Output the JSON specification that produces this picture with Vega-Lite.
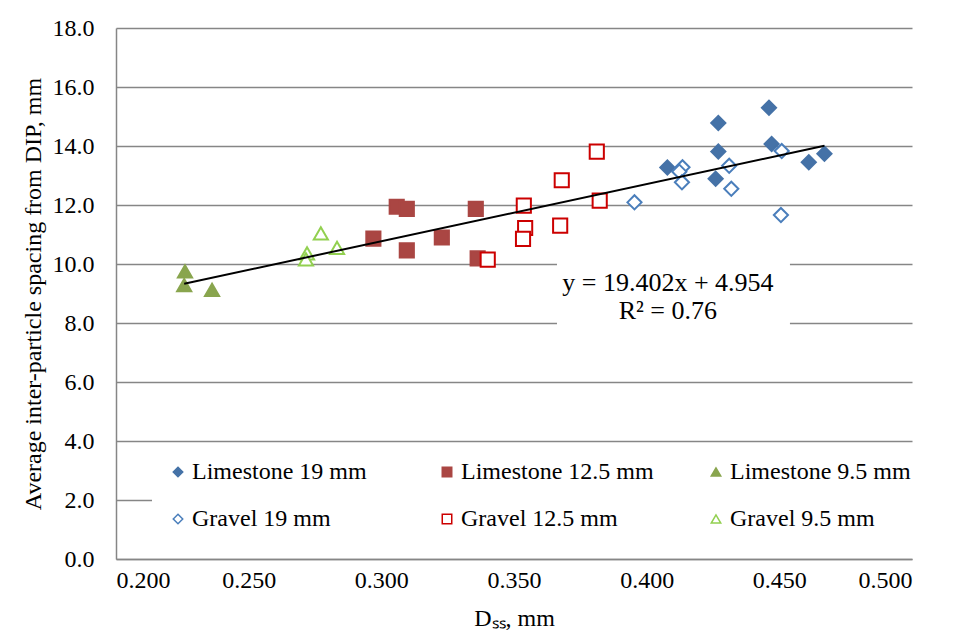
{
  "$schema": "https://vega.github.io/schema/vega-lite/v6.json",
  "width": 796,
  "height": 531,
  "autosize": {"type": "none"},
  "padding": {"left": 116, "top": 28, "right": 50, "bottom": 81},
  "background": "white",
  "config": {
    "view": {"stroke": null},
    "font": "Liberation Serif",
    "axis": {
      "labelFont": "Liberation Serif",
      "titleFont": "Liberation Serif",
      "labelColor": "black",
      "titleColor": "black",
      "labelFontSize": 24,
      "titleFontSize": 24,
      "titleFontWeight": "normal",
      "domainColor": "#868686",
      "domainWidth": 1.5,
      "gridColor": "#868686",
      "gridWidth": 1.5,
      "ticks": false
    },
    "legend": {
      "labelFont": "Liberation Serif",
      "labelFontSize": 24,
      "labelColor": "black",
      "labelLimit": 0
    }
  },
  "datasets": {
    "pts": [
      {"series": "Limestone 19 mm", "x": 0.4461, "y": 15.30},
      {"series": "Limestone 19 mm", "x": 0.4270, "y": 14.78},
      {"series": "Limestone 19 mm", "x": 0.4471, "y": 14.07},
      {"series": "Limestone 19 mm", "x": 0.4270, "y": 13.81},
      {"series": "Limestone 19 mm", "x": 0.4670, "y": 13.74},
      {"series": "Limestone 19 mm", "x": 0.4611, "y": 13.45},
      {"series": "Limestone 19 mm", "x": 0.4078, "y": 13.27},
      {"series": "Limestone 19 mm", "x": 0.4260, "y": 12.89},
      {"series": "Limestone 12.5 mm", "x": 0.3058, "y": 11.94},
      {"series": "Limestone 12.5 mm", "x": 0.3096, "y": 11.87},
      {"series": "Limestone 12.5 mm", "x": 0.3356, "y": 11.87},
      {"series": "Limestone 12.5 mm", "x": 0.2970, "y": 10.86},
      {"series": "Limestone 12.5 mm", "x": 0.3228, "y": 10.90},
      {"series": "Limestone 12.5 mm", "x": 0.3096, "y": 10.46},
      {"series": "Limestone 12.5 mm", "x": 0.3363, "y": 10.19},
      {"series": "Limestone 9.5 mm", "x": 0.2260, "y": 9.75},
      {"series": "Limestone 9.5 mm", "x": 0.2257, "y": 9.28},
      {"series": "Limestone 9.5 mm", "x": 0.2362, "y": 9.12},
      {"series": "Gravel 19 mm", "x": 0.4509, "y": 13.83},
      {"series": "Gravel 19 mm", "x": 0.4311, "y": 13.33},
      {"series": "Gravel 19 mm", "x": 0.4135, "y": 13.28},
      {"series": "Gravel 19 mm", "x": 0.4123, "y": 13.13},
      {"series": "Gravel 19 mm", "x": 0.4133, "y": 12.77},
      {"series": "Gravel 19 mm", "x": 0.4319, "y": 12.55},
      {"series": "Gravel 19 mm", "x": 0.3954, "y": 12.09},
      {"series": "Gravel 19 mm", "x": 0.4506, "y": 11.66},
      {"series": "Gravel 12.5 mm", "x": 0.3812, "y": 13.81},
      {"series": "Gravel 12.5 mm", "x": 0.3680, "y": 12.84},
      {"series": "Gravel 12.5 mm", "x": 0.3823, "y": 12.15},
      {"series": "Gravel 12.5 mm", "x": 0.3537, "y": 11.98},
      {"series": "Gravel 12.5 mm", "x": 0.3542, "y": 11.22},
      {"series": "Gravel 12.5 mm", "x": 0.3674, "y": 11.30},
      {"series": "Gravel 12.5 mm", "x": 0.3534, "y": 10.85},
      {"series": "Gravel 12.5 mm", "x": 0.3401, "y": 10.15},
      {"series": "Gravel 9.5 mm", "x": 0.2772, "y": 11.04},
      {"series": "Gravel 9.5 mm", "x": 0.2720, "y": 10.36},
      {"series": "Gravel 9.5 mm", "x": 0.2716, "y": 10.16},
      {"series": "Gravel 9.5 mm", "x": 0.2833, "y": 10.55}
    ],
    "trend": [
      {"x": 0.2257, "y": 9.33},
      {"x": 0.4670, "y": 14.01}
    ],
    "eqbox": [
      {"x1": 0.3662, "x2": 0.4540, "y1": 7.9, "y2": 10.07, "xm": 0.408, "ym": 9.36, "label": ["y = 19.402x + 4.954", "R² = 0.76"]}
    ]
  },
  "layer": [
    {
      "data": {"name": "pts"},
      "mark": {"type": "point", "filled": false, "strokeWidth": 2, "size": 200, "opacity": 1},
      "encoding": {
        "x": {
          "field": "x", "type": "quantitative",
          "scale": {"domain": [0.2, 0.5], "nice": false, "zero": false},
          "axis": {"values": [0.2, 0.25, 0.3, 0.35, 0.4, 0.45, 0.5], "format": ".3f", "grid": false, "labelPadding": 9, "title": "Dₛₛ, mm", "titlePadding": 14}
        },
        "y": {
          "field": "y", "type": "quantitative",
          "scale": {"domain": [0, 18], "nice": false},
          "axis": {"values": [0, 2, 4, 6, 8, 10, 12, 14, 16, 18], "format": ".1f", "grid": true, "labelPadding": 22, "title": "Average inter-particle spacing from DIP, mm", "titlePadding": 7}
        },
        "shape": {
          "field": "series", "type": "nominal",
          "scale": {
            "domain": ["Limestone 19 mm", "Limestone 12.5 mm", "Limestone 9.5 mm", "Gravel 19 mm", "Gravel 12.5 mm", "Gravel 9.5 mm"],
            "range": ["diamond", "square", "triangle-up", "diamond", "square", "triangle-up"]
          },
          "legend": {
            "title": null,
            "orient": "none",
            "legendX": 36,
            "legendY": 418,
            "columns": 3,
            "direction": "horizontal",
            "gridAlign": "all",
            "columnPadding": 50,
            "rowPadding": 23,
            "symbolSize": 90,
            "symbolStrokeWidth": 1.5,
            "labelOffset": 2,
            "fillColor": "white",
            "padding": 14
          }
        },
        "fill": {
          "field": "series", "type": "nominal",
          "scale": {
            "domain": ["Limestone 19 mm", "Limestone 12.5 mm", "Limestone 9.5 mm", "Gravel 19 mm", "Gravel 12.5 mm", "Gravel 9.5 mm"],
            "range": ["#4572A7", "#AA4643", "#89A54E", "white", "white", "white"]
          },
          "legend": null
        },
        "stroke": {
          "field": "series", "type": "nominal",
          "scale": {
            "domain": ["Limestone 19 mm", "Limestone 12.5 mm", "Limestone 9.5 mm", "Gravel 19 mm", "Gravel 12.5 mm", "Gravel 9.5 mm"],
            "range": ["#4572A7", "#AA4643", "#89A54E", "#4A7EBB", "#CC0000", "#92D050"]
          },
          "legend": null
        }
      }
    },
    {
      "data": {"name": "trend"},
      "mark": {"type": "line", "color": "black", "strokeWidth": 2},
      "encoding": {
        "x": {"field": "x", "type": "quantitative"},
        "y": {"field": "y", "type": "quantitative"}
      }
    },
    {
      "data": {"name": "eqbox"},
      "mark": {"type": "rect", "fill": "white"},
      "encoding": {
        "x": {"field": "x1", "type": "quantitative"},
        "x2": {"field": "x2"},
        "y": {"field": "y1", "type": "quantitative"},
        "y2": {"field": "y2"}
      }
    },
    {
      "data": {"name": "eqbox"},
      "mark": {"type": "text", "font": "Liberation Serif", "fontSize": 26, "color": "black", "align": "center", "baseline": "middle", "lineHeight": 28},
      "encoding": {
        "x": {"field": "xm", "type": "quantitative"},
        "y": {"field": "ym", "type": "quantitative"},
        "text": {"field": "label"}
      }
    }
  ]
}
